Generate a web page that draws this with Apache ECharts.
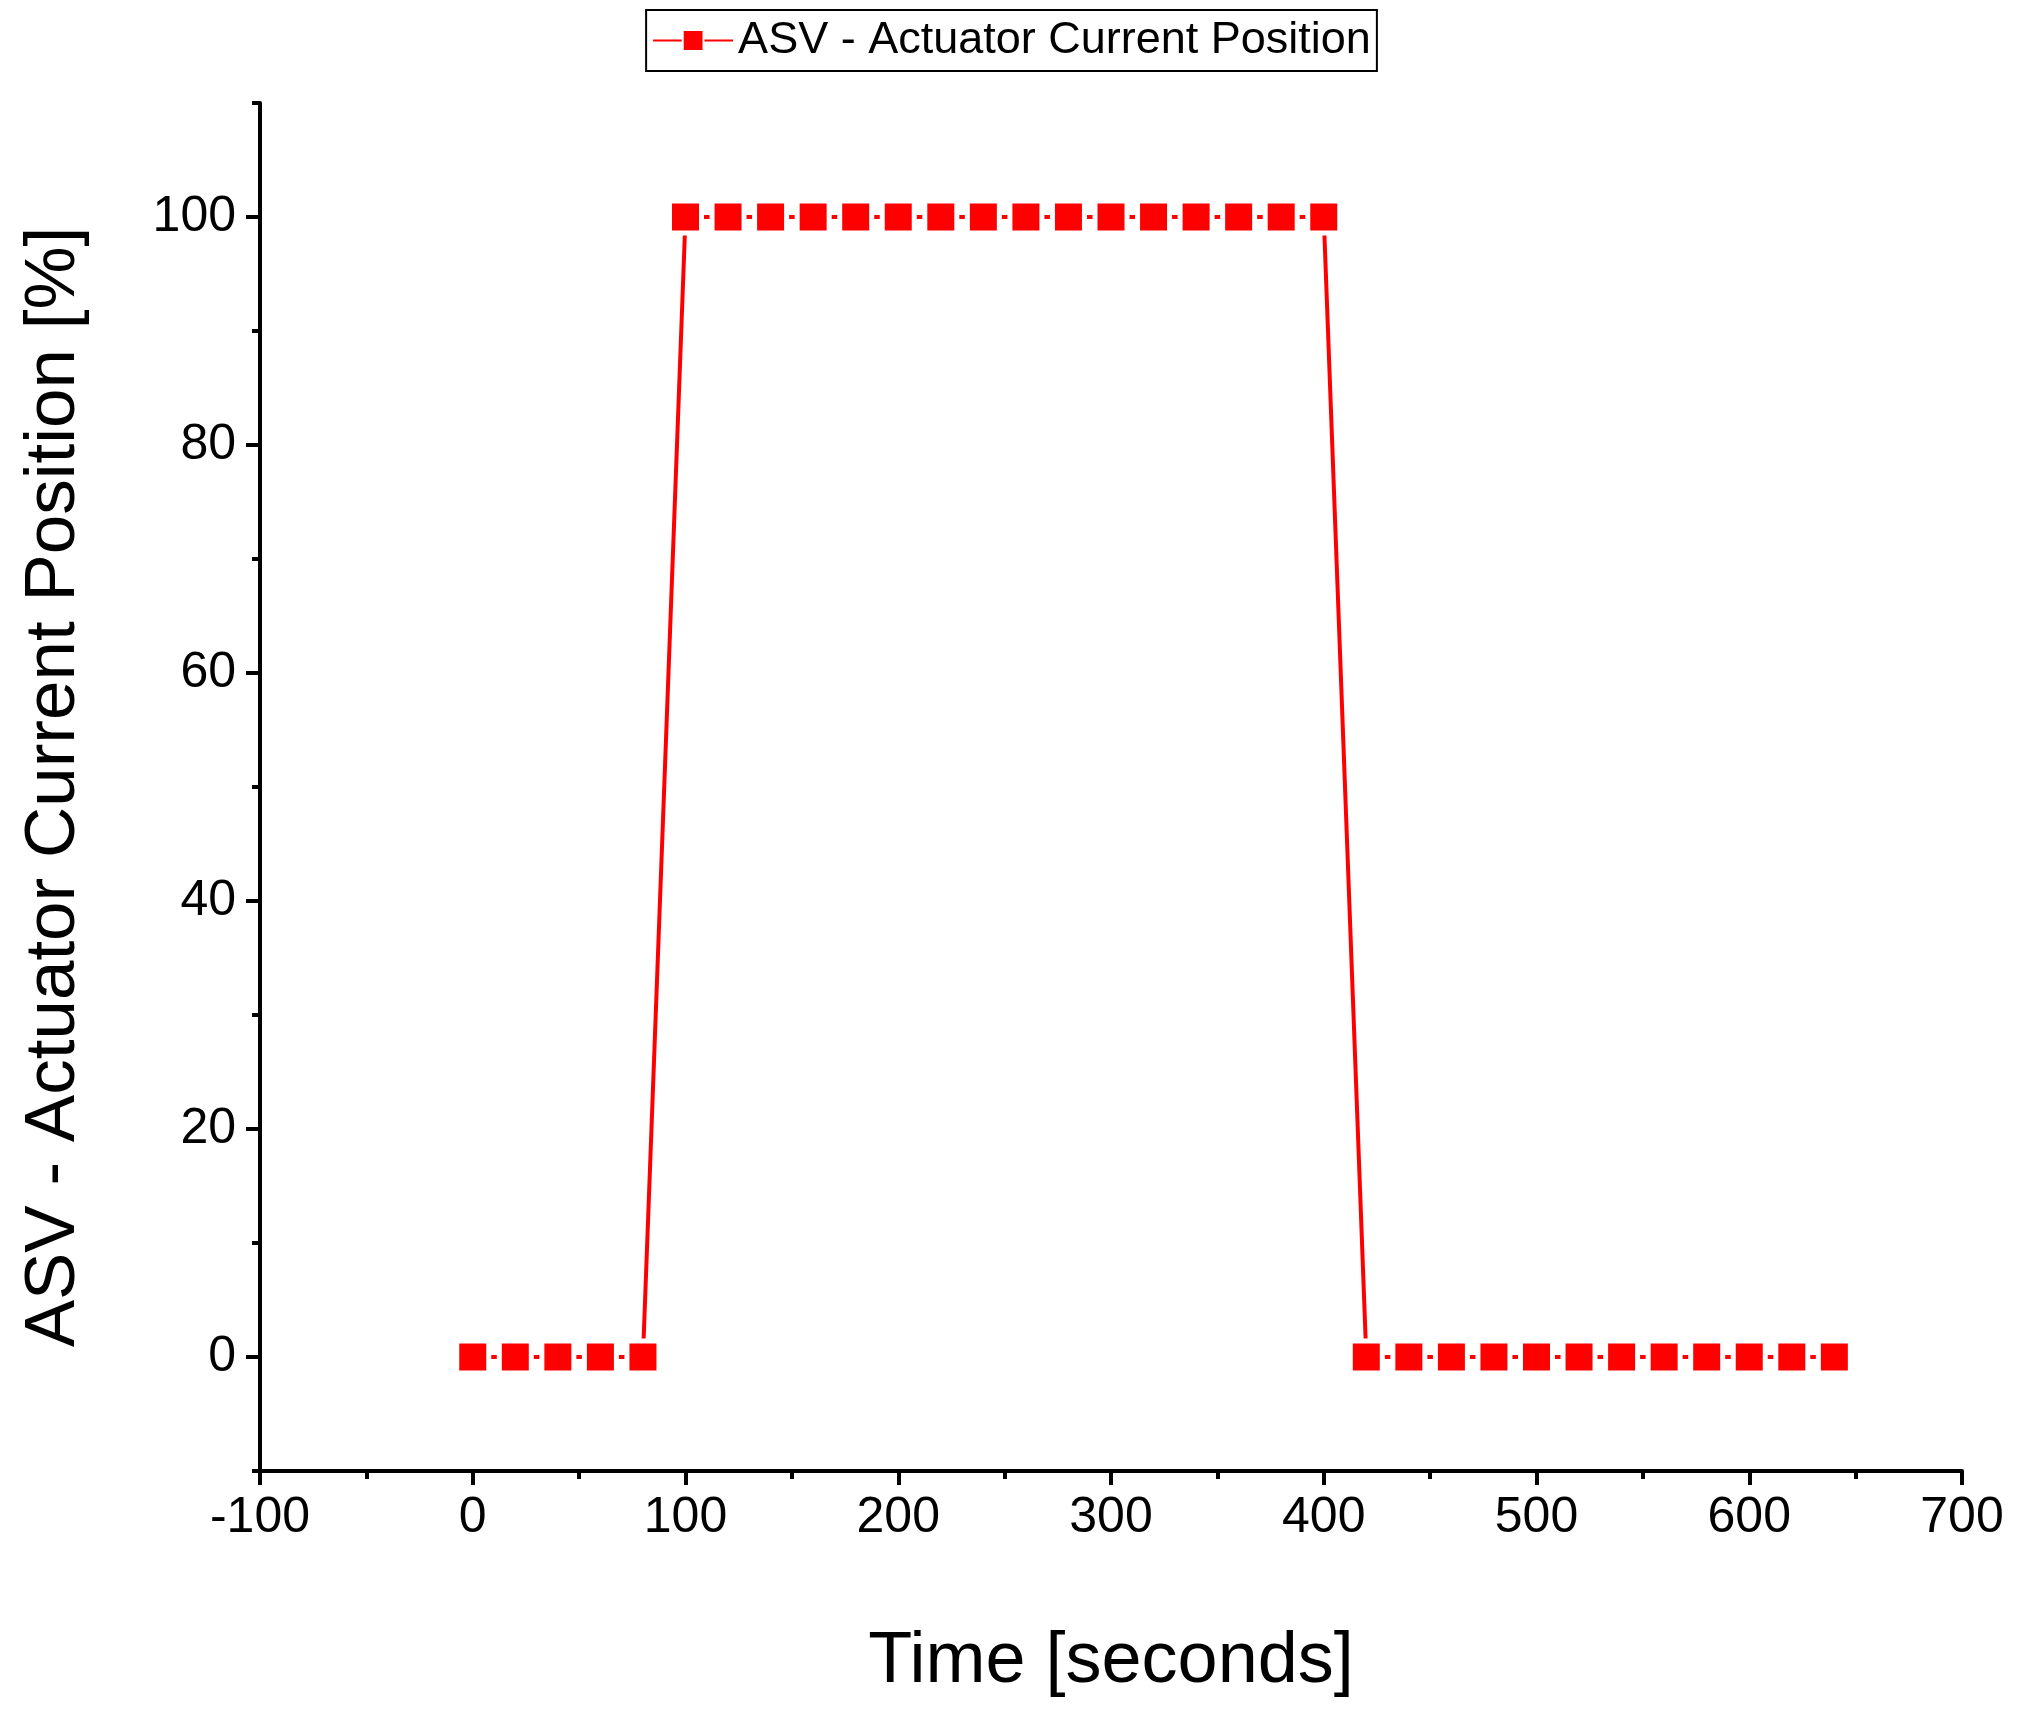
<!DOCTYPE html>
<html><head><meta charset="utf-8">
<script src="https://cdn.jsdelivr.net/npm/echarts@6/dist/echarts.min.js"></script>
<style>html,body{margin:0;padding:0;background:#fff}#c{width:2023px;height:1718px}</style>
</head><body><div id="c"></div>
<script>
const timeSec = [0,20,40,60,80,100,120,140,160,180,200,220,240,260,280,300,320,340,360,380,400,420,440,460,480,500,520,540,560,580,600,620,640];
const position = [0,0,0,0,0,100,100,100,100,100,100,100,100,100,100,100,100,100,100,100,100,0,0,0,0,0,0,0,0,0,0,0,0];
const yMajor = [0,20,40,60,80,100];
const yMinor = [-10,10,30,50,70,90,110];
const seriesName = 'ASV - Actuator Current Position';
const data = timeSec.map((t,i)=>[t,position[i]]);
const font = 'Liberation Sans';
const chart = echarts.init(document.getElementById('c'));
const axisLine = {show:true,onZero:false,lineStyle:{color:'#000',width:4}};
chart.setOption({
  animation:false,
  textStyle:{fontFamily:font},
  legend:{top:10,left:'center',itemWidth:80,itemHeight:26,itemGap:6,borderColor:'#000',borderWidth:2,padding:[8,6],borderRadius:0,
    textStyle:{fontSize:45,fontFamily:font,color:'#000'},data:[{name:seriesName}]},
  grid:{left:260,right:61,top:103,bottom:247},
  xAxis:{type:'value',min:-100,max:700,interval:100,name:'Time [seconds]',nameLocation:'middle',nameGap:155,
    nameTextStyle:{fontSize:72,color:'#000',fontFamily:font},axisLine,
    axisTick:{show:true,length:14,inside:false,lineStyle:{width:4,color:'#000'}},
    minorTick:{show:true,splitNumber:2,length:8,lineStyle:{width:4,color:'#000'}},
    axisLabel:{fontSize:50,color:'#000',margin:22,fontFamily:font},splitLine:{show:false}},
  yAxis:[{type:'value',min:-10,max:110,interval:10,name:'ASV - Actuator Current Position [%]',nameLocation:'middle',nameGap:170,
    nameTextStyle:{fontSize:71,color:'#000',fontFamily:font},axisLine,
    axisTick:{show:true,length:14,lineStyle:{width:4,color:'#000'},customValues:yMajor},
    axisLabel:{fontSize:50,color:'#000',margin:24,fontFamily:font,customValues:yMajor},splitLine:{show:false}},
   {type:'value',min:-10,max:110,interval:10,position:'left',axisLine:{show:false,onZero:false},
    axisTick:{show:true,length:8,lineStyle:{width:4,color:'#000'},customValues:yMinor},
    axisLabel:{show:false},splitLine:{show:false}}],
  series:[{name:seriesName,type:'line',data,symbol:'rect',symbolSize:32,
    lineStyle:{color:'#ff0000',width:4},
    itemStyle:{color:'#ff0000',borderColor:'#fff',borderWidth:5}}]
});
</script></body></html>
